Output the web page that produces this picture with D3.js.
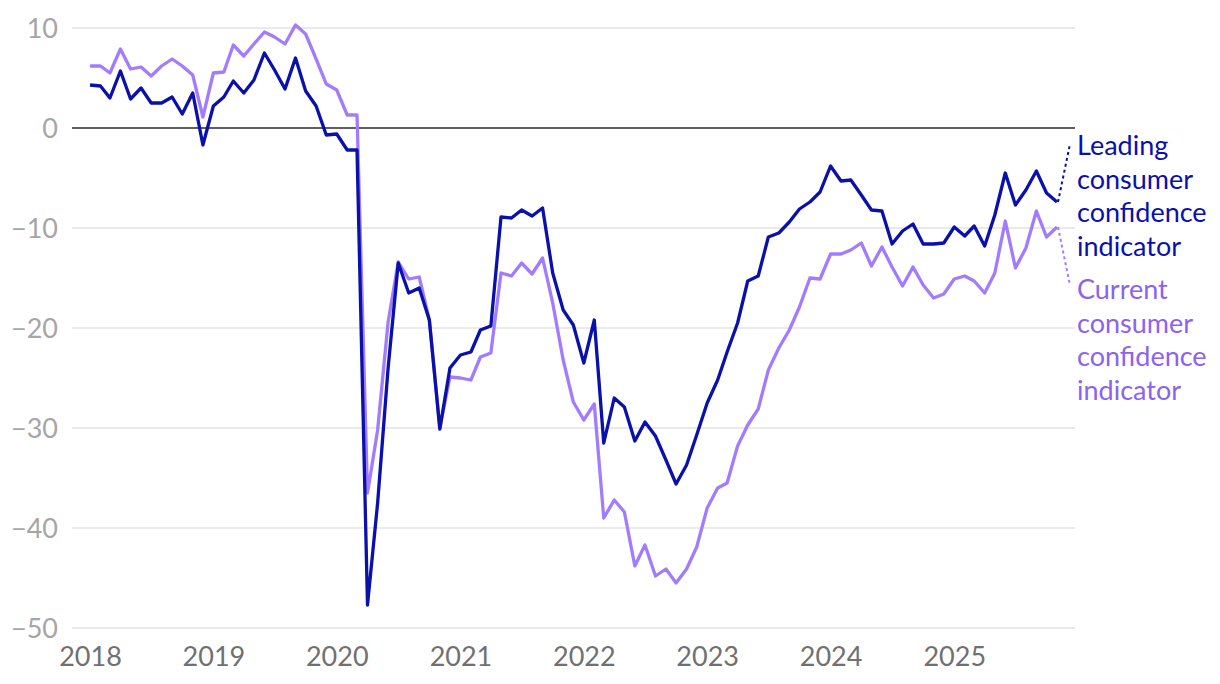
<!DOCTYPE html>
<html>
<head>
<meta charset="utf-8">
<script src="https://cdn.jsdelivr.net/npm/d3@7"></script>
<style>
  html, body { margin: 0; padding: 0; background: #fff; }
  svg { display: block; font-family: Lato, "Open Sans", sans-serif; }
</style>
</head>
<body>
<svg id="chart" width="1220" height="684"></svg>
<script>
// ---- data ----
const startMonth = "2018-01";
const leading = [
  4.3, 4.2, 3.0, 5.7, 2.9, 4.0, 2.5, 2.5, 3.1, 1.4, 3.5, -1.7,
  2.2, 3.1, 4.7, 3.5, 4.8, 7.5, 5.8, 3.9, 7.0, 3.7, 2.2, -0.7,
  -0.6, -2.2, -2.2, -47.7, -37.5, -24.0, -13.5, -16.5, -16.0, -19.2, -30.1, -24.0,
  -22.7, -22.4, -20.2, -19.8, -8.9, -9.0, -8.2, -8.8, -8.0, -14.5, -18.2, -19.7,
  -23.5, -19.2, -31.5, -27.0, -27.9, -31.3, -29.4, -30.8, -33.2, -35.6, -33.7, -30.7,
  -27.5, -25.2, -22.4, -19.5, -15.3, -14.8, -10.9, -10.5, -9.4, -8.1, -7.4, -6.4,
  -3.8, -5.3, -5.2, -6.7, -8.2, -8.3, -11.6, -10.3, -9.6, -11.6, -11.6, -11.5,
  -9.9, -10.8, -9.8, -11.8, -8.7, -4.5, -7.7, -6.2, -4.3, -6.5, -7.4
];
const current = [
  6.2, 6.2, 5.5, 7.9, 5.9, 6.1, 5.2, 6.2, 6.9, 6.2, 5.3, 1.1,
  5.5, 5.6, 8.3, 7.2, 8.4, 9.6, 9.1, 8.4, 10.3, 9.4, 6.9, 4.4,
  3.8, 1.3, 1.3, -36.5, -30.2, -19.4, -13.4, -15.1, -14.9, -19.2, -30.0, -24.9,
  -25.0, -25.2, -22.9, -22.5, -14.5, -14.8, -13.5, -14.6, -13.0, -17.5, -23.2, -27.4,
  -29.2, -27.6, -39.0, -37.2, -38.4, -43.8, -41.7, -44.8, -44.1, -45.5, -44.1, -41.9,
  -38.0, -36.0, -35.5, -31.8, -29.7, -28.1, -24.2, -22.0, -20.2, -17.9, -15.0, -15.1,
  -12.6, -12.6, -12.2, -11.5, -13.8, -11.9, -13.9, -15.8, -13.9, -15.7, -17.0, -16.6,
  -15.1, -14.8, -15.3, -16.5, -14.5, -9.3, -14.0, -12.0, -8.3, -10.9, -9.9
];
const yTicks = [10, 0, -10, -20, -30, -40, -50];
const xTickYears = [2018, 2019, 2020, 2021, 2022, 2023, 2024, 2025];
const seriesNames = [
  ["Leading", "consumer", "confidence", "indicator"],
  ["Current", "consumer", "confidence", "indicator"]
];

// ---- setup ----
const colLeading = "#0a10ab";
const colCurrent = "#a27cff";
const colCurrentText = "#8c62f0";
const fontSize = 27;

const svg = d3.select("#chart");
const parse = d3.timeParse("%Y-%m");
const t0 = parse(startMonth);
const dates = leading.map((_, i) => d3.timeMonth.offset(t0, i));

const x = d3.scaleTime()
  .domain([dates[0], dates[dates.length - 1]])
  .range([90, 1057]);
const y = d3.scaleLinear().domain([-50, 10]).range([628, 28]);

const gridX0 = 72, gridX1 = 1075;

// gridlines
svg.append("g").selectAll("line").data(yTicks.filter(d => d !== 0)).join("line")
  .attr("x1", gridX0).attr("x2", gridX1)
  .attr("y1", d => y(d)).attr("y2", d => y(d))
  .attr("stroke", "#e3e3e3").attr("stroke-width", 1.5);

// y axis labels
const yAxis = d3.axisLeft(y).tickValues(yTicks).tickSize(0).tickPadding(0)
  .tickFormat(d => d < 0 ? "\u2212" + Math.abs(d) : String(d));
const gy = svg.append("g").attr("transform", "translate(58,0)").call(yAxis);
gy.select(".domain").remove();
gy.selectAll("text").attr("fill", "#a6a6a6").attr("font-size", fontSize)
  .attr("font-family", "Lato").attr("dy", "0.35em");

// x axis labels
const xAxis = d3.axisBottom(x)
  .tickValues(xTickYears.map(yr => new Date(yr, 0, 1)))
  .tickSize(0).tickPadding(0).tickFormat(d3.timeFormat("%Y"));
const gx = svg.append("g").attr("transform", "translate(0,647)").call(xAxis);
gx.select(".domain").remove();
gx.selectAll("text").attr("fill", "#707070").attr("font-size", fontSize)
  .attr("font-family", "Lato").attr("dy", "0.71em");

// zero line
svg.append("line")
  .attr("x1", gridX0).attr("x2", gridX1)
  .attr("y1", y(0)).attr("y2", y(0))
  .attr("stroke", "#2a2a2a").attr("stroke-width", 1.6);

// lines
const line = d3.line().x((d, i) => x(dates[i])).y(d => y(d));
svg.append("path").datum(current)
  .attr("d", line).attr("fill", "none")
  .attr("stroke", colCurrent).attr("stroke-width", 3.3).attr("stroke-linejoin", "round");
svg.append("path").datum(leading)
  .attr("d", line).attr("fill", "none")
  .attr("stroke", colLeading).attr("stroke-width", 3.3).attr("stroke-linejoin", "round");

// labels + leader lines
const lastI = leading.length - 1;
const lx = 1077;
const labelSpecs = [
  { lines: seriesNames[0], color: colLeading, line: colLeading, v: leading[lastI], base: 155, ty: 144 },
  { lines: seriesNames[1], color: colCurrentText, line: colCurrent, v: current[lastI], base: 299, ty: 285 }
];
labelSpecs.forEach(s => {
  svg.append("line")
    .attr("x1", x(dates[lastI]) + 1).attr("y1", y(s.v))
    .attr("x2", 1070).attr("y2", s.ty)
    .attr("stroke", s.line).attr("stroke-width", 2).attr("stroke-dasharray", "3,3");
  const t = svg.append("text").attr("x", lx).attr("y", s.base)
    .attr("fill", s.color).attr("font-size", fontSize).attr("font-family", "Lato");
  s.lines.forEach((w, k) => {
    t.append("tspan").attr("x", lx).attr("y", s.base + k * 33.7).text(w);
  });
});
</script>
</body>
</html>
